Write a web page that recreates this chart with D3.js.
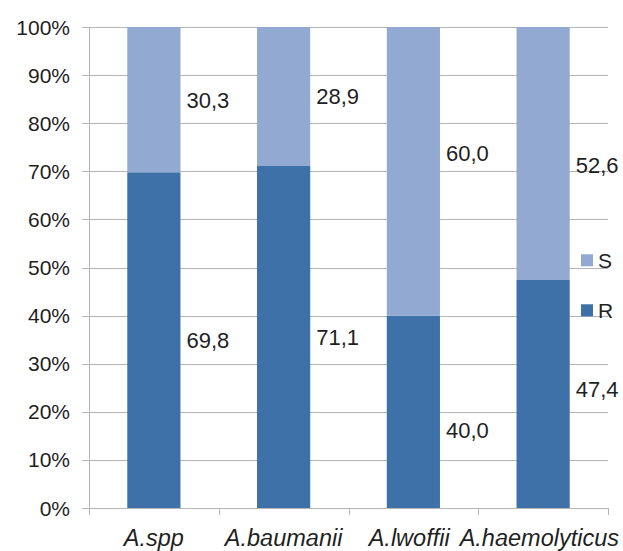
<!DOCTYPE html>
<html>
<head>
<meta charset="utf-8">
<script src="https://cdn.jsdelivr.net/npm/d3@7"></script>
<style>
  html, body { margin: 0; padding: 0; background: #fff; }
  svg { display: block; font-family: Arial, "Liberation Sans", sans-serif; }
</style>
</head>
<body>
<svg id="chart" width="623" height="551"></svg>
<script>
// Species and their resistant / sensitive shares (%)
const categories = ["A.spp", "A.baumanii", "A.lwoffii", "A.haemolyticus"];
const resistant = [69.8, 71.1, 40.0, 47.4];
const sensitive = [30.3, 28.9, 60.0, 52.6];
const seriesNames = ["S", "R"];
const yTicks = [0, 10, 20, 30, 40, 50, 60, 70, 80, 90, 100];

// Vertical shift (px) applied to the value labels of each species
const labelShiftS = [0, 0, -18, 12];
const labelShiftR = [0, 0, 18, -5];

const colors = { R: "#3e71a7", S: "#92aad1" };
const textColor = "#1f1f1f";
const gridColor = "#b5b5b5";

const W = 623, H = 551;
const margin = { left: 89, right: 15, top: 27, bottom: 43 };

const svg = d3.select("#chart");

const x = d3.scaleBand()
  .domain(categories)
  .range([margin.left, W - margin.right])
  .paddingInner(0)
  .paddingOuter(0);

const y = d3.scaleLinear()
  .domain([0, 100])
  .range([H - margin.bottom, margin.top]);

const barW = x.bandwidth() * 0.41;

// horizontal gridlines with short ticks left of the axis
const grid = svg.append("g");
grid.selectAll("line")
  .data(yTicks)
  .join("line")
  .attr("x1", margin.left - 7)
  .attr("x2", W - margin.right)
  .attr("y1", d => Math.round(y(d)) + 0.5)
  .attr("y2", d => Math.round(y(d)) + 0.5)
  .attr("stroke", gridColor)
  .attr("stroke-width", 1);

// y axis line
svg.append("line")
  .attr("x1", margin.left + 0.5).attr("x2", margin.left + 0.5)
  .attr("y1", y(100)).attr("y2", y(0))
  .attr("stroke", gridColor);

// y tick labels
svg.append("g").selectAll("text")
  .data(yTicks)
  .join("text")
  .attr("x", margin.left - 19)
  .attr("y", d => y(d))
  .attr("dy", "0.36em")
  .attr("text-anchor", "end")
  .attr("font-size", 21)
  .attr("fill", textColor)
  .text(d => d + "%");

// category boundary ticks under the baseline
const bounds = categories.map(c => x(c)).concat([x(categories[categories.length - 1]) + x.bandwidth()]);
svg.append("g").selectAll("line")
  .data(bounds)
  .join("line")
  .attr("x1", d => Math.round(d) + 0.5)
  .attr("x2", d => Math.round(d) + 0.5)
  .attr("y1", y(0))
  .attr("y2", y(0) + 7)
  .attr("stroke", gridColor);

// stacked bars
const rows = categories.map((c, i) => ({ cat: c, R: resistant[i], S: sensitive[i], i }));
const stack = d3.stack().keys(["R", "S"]);
const layers = stack(rows);

svg.append("g").selectAll("g")
  .data(layers)
  .join("g")
  .attr("fill", d => colors[d.key])
  .selectAll("rect")
  .data(d => d)
  .join("rect")
  .attr("x", d => x(d.data.cat) + (x.bandwidth() - barW) / 2)
  .attr("width", barW)
  .attr("y", d => y(Math.min(d[1], 100)))
  .attr("height", d => y(d[0]) - y(Math.min(d[1], 100)));

// value labels to the right of each bar
const labels = svg.append("g")
  .attr("font-size", 22)
  .attr("fill", textColor);
layers.forEach(layer => {
  labels.selectAll(null)
    .data(layer)
    .join("text")
    .attr("x", d => x(d.data.cat) + (x.bandwidth() + barW) / 2 + 6)
    .attr("y", d => y((d[0] + Math.min(d[1], 100)) / 2) +
      (layer.key === "S" ? labelShiftS[d.data.i] : labelShiftR[d.data.i]))
    .attr("dy", "0.36em")
    .text(d => d3.format(".1f")(d.data[layer.key]).replace(".", ","));
});

// category labels, centred and kept inside the page without overlapping
const catG = svg.append("g")
  .attr("font-size", 23.5)
  .attr("font-style", "italic")
  .attr("fill", textColor);
const catText = catG.selectAll("text")
  .data(categories)
  .join("text")
  .attr("y", H - 5)
  .attr("text-anchor", "start")
  .text(d => d);
const boxes = [];
catText.each(function(d) {
  const w = this.getComputedTextLength();
  boxes.push({ d, w, left: x(d) + x.bandwidth() / 2 - w / 2, node: this });
});
let limit = W - 4;
for (let k = boxes.length - 1; k >= 0; k--) {
  const b = boxes[k];
  if (b.left + b.w > limit) b.left = limit - b.w;
  limit = b.left - 10;
}
boxes.forEach(b => d3.select(b.node).attr("x", b.left));

// legend
const legend = svg.append("g");
seriesNames.forEach((s, i) => {
  const ly = y(51.5) + i * 50;
  legend.append("rect")
    .attr("x", 581).attr("y", ly - 6)
    .attr("width", 12).attr("height", 12)
    .attr("fill", colors[s]);
  legend.append("text")
    .attr("x", 598).attr("y", ly)
    .attr("dy", "0.36em")
    .attr("font-size", 21)
    .attr("fill", textColor)
    .text(s);
});
</script>
</body>
</html>
